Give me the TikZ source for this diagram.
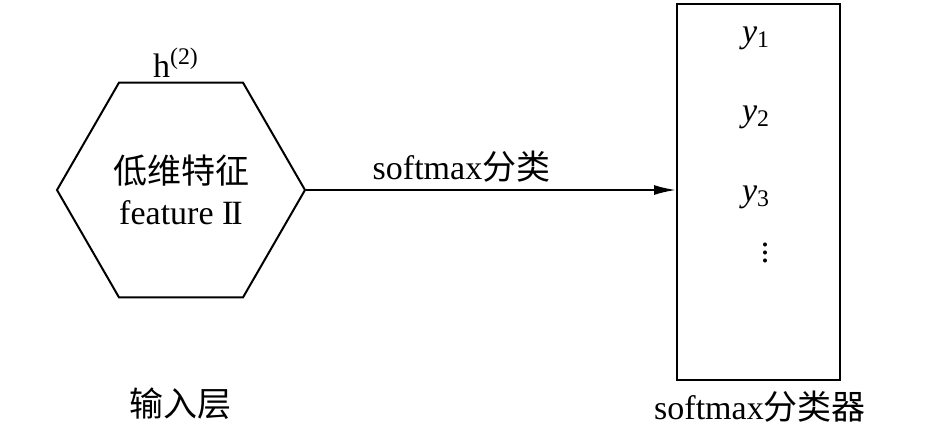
\documentclass[tikz,border=0pt]{standalone}
\usepackage{fontspec}
\setmainfont{Liberation Serif}
\newfontfamily\cjk{Noto Sans CJK SC}
\usetikzlibrary{shapes.geometric,arrows.meta}

\begin{document}
\begin{tikzpicture}
  [x=0.5pt,y=-0.5pt,every node/.style={font=\fontsize{17}{20.5}\selectfont},
   hexa/.style={draw,line width=1pt,regular polygon,regular polygon sides=6,
     minimum size=124pt,inner sep=0pt,align=center},
   outbox/.style={draw,line width=1pt,minimum width=81.5pt,minimum height=188pt,inner sep=0pt}]
  \useasboundingbox (0,0) rectangle (932,447);
  \node[hexa] (feat) at (181,190) {{\cjk 低维特征}\\feature I\kern-1pt I};
  \node[outbox] (cls) at (758.5,192) {};
  \node (h2) at (176,63) {h\textsuperscript{(2)}};
  \node (y1) at (756,38) {\textit{y}\textsubscript{1}};
  \node (y2) at (756,117) {\textit{y}\textsubscript{2}};
  \node (y3) at (756,197) {\textit{y}\textsubscript{3}};
  \node (dots) at (765,247) {$\vdots$};
  \node (inlab) at (180,404) {\cjk 输入层};
  \node (outlab) at (760,407) {softmax{\cjk 分类器}};
 \draw [-{Latex[length=11pt,width=5pt]},line width=1pt]
  (feat.east) -- node[above=0pt,pos=0.42] {softmax{\cjk 分类}} (feat.east -| cls.west)
;
\end{tikzpicture}
\end{document}
